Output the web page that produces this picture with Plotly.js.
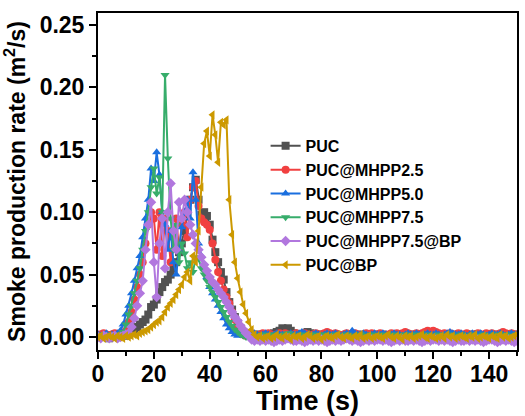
<!DOCTYPE html>
<html>
<head>
<meta charset="utf-8">
<script src="https://cdn.plot.ly/plotly-3.0.1.min.js"></script>
<style>html,body{margin:0;padding:0;background:#fff;}#chart{width:525px;height:416px;}</style>
</head>
<body>
<div id="chart"></div>
<script>
const seriesNames = ["PUC", "PUC@MHPP2.5", "PUC@MHPP5.0", "PUC@MHPP7.5", "PUC@MHPP7.5@BP", "PUC@BP"];
const xTickVals = [0, 20, 40, 60, 80, 100, 120, 140];
const yTickVals = [0.00, 0.05, 0.10, 0.15, 0.20, 0.25];
const yTickText = ["0.00", "0.05", "0.10", "0.15", "0.20", "0.25"];

const puc = [
  0.001, 0.000, 0.002, 0.001, -0.001, 0.001, 0.002, 0.000, 0.001, 0.002, 0.001,
  0.002, 0.004, 0.006, 0.008, 0.010, 0.012, 0.014, 0.018, 0.024, 0.026,
  0.030, 0.036, 0.040, 0.044, 0.046, 0.050, 0.055, 0.060, 0.068, 0.075,
  0.085, 0.100, 0.110, 0.120, 0.126, 0.110, 0.098, 0.100, 0.097, 0.090,
  0.078, 0.068, 0.060, 0.052, 0.046, 0.036, 0.028, 0.022, 0.016, 0.011,
  0.007, 0.004, 0.002, 0.001, 0.002, 0.001, 0.000, 0.002, 0.001, 0.002,
  0.001, 0.002, 0.003, 0.004, 0.005, 0.007, 0.006, 0.007, 0.005, 0.003,
  0.002, 0.001, 0.002, 0.003, 0.004, 0.003, 0.002, 0.001, 0.002, 0.001,
  0.000, 0.001, 0.002, 0.001, 0.002, 0.001, 0.000, 0.001, 0.002, 0.001,
  0.001, 0.000, 0.002, 0.001, 0.001, 0.002, 0.001, 0.000, 0.001, 0.002,
  0.001, 0.002, 0.001, 0.000, 0.001, 0.002, 0.001, 0.001, 0.000, 0.002,
  0.001, 0.002, 0.001, 0.001, 0.000, 0.001, 0.002, 0.001, 0.002, 0.001,
  0.000, 0.001, 0.002, 0.001, 0.001, 0.002, 0.000, 0.001, 0.002, 0.001,
  0.001, 0.000, 0.001, 0.002, 0.001, 0.002, 0.001, 0.000, 0.001, 0.002,
  0.001, 0.001, 0.002, 0.000, 0.001, 0.002, 0.001, 0.001, 0.002, 0.001
];
const mhpp25 = [
  0.002, 0.001, 0.003, 0.002, 0.001, 0.002, 0.003, 0.001, 0.002, 0.003, 0.005,
  0.012, 0.020, 0.030, 0.040, 0.050, 0.060, 0.075, 0.090, 0.100, 0.095,
  0.070, 0.100, 0.065, 0.095, 0.085, 0.060, 0.080, 0.095, 0.070, 0.090,
  0.100, 0.080, 0.110, 0.120, 0.125, 0.105, 0.095, 0.092, 0.090, 0.086,
  0.075, 0.062, 0.052, 0.045, 0.038, 0.032, 0.027, 0.020, 0.014, 0.009,
  0.005, 0.002, 0.001, 0.002, 0.003, 0.002, 0.001, 0.002, 0.003, 0.002,
  0.003, 0.002, 0.001, 0.002, 0.003, 0.002, 0.003, 0.002, 0.001, 0.002,
  0.003, 0.002, 0.002, 0.003, 0.002, 0.001, 0.002, 0.003, 0.002, 0.002,
  0.003, 0.004, 0.003, 0.002, 0.003, 0.002, 0.001, 0.002, 0.003, 0.002,
  0.002, 0.003, 0.002, 0.001, 0.002, 0.003, 0.002, 0.003, 0.002, 0.002,
  0.003, 0.002, 0.001, 0.002, 0.003, 0.002, 0.003, 0.002, 0.003, 0.004,
  0.003, 0.002, 0.002, 0.003, 0.002, 0.003, 0.004, 0.005, 0.004, 0.005,
  0.004, 0.003, 0.002, 0.003, 0.002, 0.003, 0.002, 0.002, 0.003, 0.002,
  0.002, 0.003, 0.002, 0.001, 0.002, 0.003, 0.002, 0.002, 0.003, 0.002,
  0.003, 0.002, 0.002, 0.003, 0.004, 0.003, 0.002, 0.003, 0.002, 0.002
];
const mhpp50 = [
  0.002, 0.001, 0.002, 0.003, 0.001, 0.002, 0.001, 0.003, 0.005, 0.010, 0.018,
  0.025, 0.035, 0.045, 0.055, 0.065, 0.080, 0.095, 0.110, 0.135, 0.125,
  0.148, 0.130, 0.100, 0.090, 0.070, 0.085, 0.060, 0.050, 0.070, 0.088,
  0.100, 0.110, 0.095, 0.132, 0.110, 0.075, 0.065, 0.055, 0.048, 0.040,
  0.035, 0.030, 0.025, 0.020, 0.015, 0.010, 0.007, 0.004, 0.002, 0.001,
  0.002, 0.001, 0.002, 0.001, 0.002, 0.003, 0.002, 0.001, 0.002, 0.003,
  0.002, 0.001, 0.002, 0.003, 0.002, 0.002, 0.001, 0.002, 0.003, 0.002,
  0.002, 0.003, 0.004, 0.003, 0.002, 0.001, 0.002, 0.003, 0.002, 0.001,
  0.002, 0.003, 0.002, 0.002, 0.003, 0.002, 0.001, 0.002, 0.003, 0.002,
  0.005, 0.003, 0.002, 0.002, 0.003, 0.002, 0.001, 0.002, 0.003, 0.002,
  0.002, 0.003, 0.002, 0.001, 0.002, 0.003, 0.002, 0.002, 0.001, 0.002,
  0.003, 0.002, 0.002, 0.003, 0.002, 0.001, 0.002, 0.003, 0.002, 0.002,
  0.003, 0.002, 0.001, 0.002, 0.003, 0.004, 0.003, 0.002, 0.002, 0.003,
  0.002, 0.001, 0.002, 0.003, 0.002, 0.002, 0.003, 0.002, 0.001, 0.002,
  0.003, 0.002, 0.002, 0.003, 0.002, 0.001, 0.002, 0.003, 0.002, 0.002
];
const mhpp75 = [
  0.001, 0.002, 0.001, 0.000, 0.001, 0.002, 0.001, 0.000, 0.002, 0.004, 0.010,
  0.018, 0.025, 0.035, 0.045, 0.055, 0.070, 0.085, 0.100, 0.120, 0.135,
  0.115, 0.128, 0.100, 0.210, 0.143, 0.095, 0.070, 0.090, 0.060, 0.075,
  0.067, 0.055, 0.060, 0.052, 0.064, 0.063, 0.055, 0.050, 0.045, 0.040,
  0.036, 0.032, 0.028, 0.024, 0.020, 0.016, 0.012, 0.009, 0.006, 0.004,
  0.002, 0.001, 0.000, 0.001, 0.002, 0.001, 0.000, 0.001, 0.002, 0.001,
  0.000, 0.001, 0.002, 0.001, 0.000, 0.001, 0.002, 0.003, 0.002, 0.001,
  0.000, 0.001, 0.002, 0.001, 0.000, 0.001, 0.002, 0.001, 0.000, 0.001,
  0.002, 0.001, 0.000, 0.001, 0.002, 0.001, 0.000, 0.001, 0.002, 0.001,
  0.001, 0.000, 0.001, 0.002, 0.001, 0.000, 0.001, 0.002, 0.001, 0.000,
  0.001, 0.002, 0.001, 0.000, 0.001, 0.002, 0.001, 0.000, 0.001, 0.002,
  0.001, 0.000, 0.001, 0.002, 0.001, 0.000, 0.001, 0.002, 0.001, 0.000,
  0.001, 0.002, 0.001, 0.000, 0.001, 0.002, 0.001, 0.000, 0.001, 0.002,
  0.001, 0.000, 0.001, 0.002, 0.001, 0.000, 0.001, 0.002, 0.001, 0.000,
  0.001, 0.002, 0.001, 0.000, 0.001, 0.002, 0.001, 0.000, 0.001, 0.002
];
const mhpp75bp = [
  0.000, -0.001, 0.001, 0.000, -0.001, 0.000, 0.001, -0.001, 0.000, 0.001, 0.002,
  0.003, 0.008, 0.015, 0.025, 0.035, 0.045, 0.070, 0.090, 0.108, 0.060,
  0.032, 0.075, 0.095, 0.055, 0.100, 0.123, 0.085, 0.070, 0.108, 0.095,
  0.110, 0.100, 0.090, 0.082, 0.075, 0.070, 0.064, 0.058, 0.053, 0.048,
  0.044, 0.042, 0.038, 0.035, 0.032, 0.028, 0.024, 0.020, 0.016, 0.013,
  0.009, 0.006, 0.003, 0.001, -0.002, -0.003, -0.002, -0.003, -0.002, -0.003,
  -0.002, -0.003, -0.004, -0.003, -0.002, -0.003, -0.002, -0.001, -0.002, -0.003,
  -0.003, -0.002, -0.003, -0.004, -0.003, -0.002, -0.003, -0.002, -0.003, -0.002,
  -0.003, -0.004, -0.003, -0.002, -0.003, -0.002, -0.003, -0.002, -0.001, -0.002,
  -0.003, -0.002, -0.003, -0.004, -0.003, -0.002, -0.003, -0.002, -0.003, -0.002,
  -0.002, -0.003, -0.002, -0.003, -0.004, -0.003, -0.002, -0.003, -0.002, -0.003,
  -0.003, -0.002, -0.003, -0.002, -0.003, -0.004, -0.003, -0.002, -0.003, -0.002,
  -0.002, -0.003, -0.002, -0.003, -0.002, -0.003, -0.004, -0.003, -0.002, -0.003,
  -0.003, -0.002, -0.003, -0.002, -0.003, -0.002, -0.003, -0.004, -0.003, -0.002,
  -0.002, -0.003, -0.004, -0.003, -0.002, -0.003, -0.002, -0.003, -0.004, -0.003
];
const bp = [
  0.000, 0.001, -0.001, 0.000, 0.001, 0.000, -0.001, 0.001, 0.000, -0.001, 0.001,
  0.000, 0.001, 0.002, 0.001, 0.003, 0.004, 0.005, 0.006, 0.008, 0.010,
  0.012, 0.013, 0.016, 0.020, 0.024, 0.027, 0.030, 0.034, 0.038, 0.042,
  0.048, 0.052, 0.045, 0.065, 0.060, 0.085, 0.120, 0.155, 0.165, 0.145,
  0.178, 0.162, 0.140, 0.172, 0.170, 0.174, 0.110, 0.082, 0.060, 0.047,
  0.036, 0.026, 0.019, 0.012, 0.006, 0.002, 0.000, 0.001, -0.001, 0.000,
  0.001, -0.001, 0.000, 0.002, 0.000, -0.001, 0.001, 0.000, -0.002, 0.001,
  0.000, 0.001, -0.001, 0.000, 0.002, 0.001, -0.001, 0.000, 0.001, -0.002,
  0.000, 0.001, 0.000, -0.001, 0.001, 0.002, 0.000, -0.001, 0.001, 0.000,
  -0.001, 0.001, 0.000, 0.002, -0.001, 0.000, 0.001, -0.001, 0.000, 0.001,
  0.000, -0.001, 0.001, 0.002, 0.000, -0.001, 0.001, 0.000, -0.002, 0.001,
  0.000, 0.001, -0.001, 0.000, 0.001, 0.002, 0.000, -0.001, 0.001, 0.000,
  -0.001, 0.000, 0.001, -0.001, 0.002, 0.000, 0.001, -0.001, 0.000, 0.001,
  0.000, -0.001, 0.001, 0.000, 0.002, -0.001, 0.000, 0.001, 0.000, -0.001,
  0.001, 0.000, -0.001, 0.002, 0.000, 0.001, -0.001, 0.000, 0.001, 0.002
];
// sampling: one reading per second, starting at 0 s
const time = puc.map((_, i) => i);

const seriesValues = [puc, mhpp25, mhpp50, mhpp75, mhpp75bp, bp];
const colors = ["#515151", "#F14040", "#1A6FDF", "#37AD6B", "#B177DE", "#CC9900"];
const symbols = ["square", "circle", "triangle-up", "triangle-down", "diamond", "triangle-left"];

const traces = seriesValues.map((vals, k) => ({
  type: "scatter",
  mode: "lines+markers",
  name: seriesNames[k],
  x: time,
  y: vals,
  line: {color: colors[k], width: 2},
  marker: {color: colors[k], symbol: symbols[k], size: 8}
}));

const bold = {family: "Arial, Liberation Sans, sans-serif", color: "#000", weight: "bold"};

const layout = {
  width: 525, height: 416,
  margin: {l: 98, r: 8, t: 13, b: 66},
  paper_bgcolor: "#fff", plot_bgcolor: "#fff",
  showlegend: true,
  legend: {
    x: 0.40, y: 0.656, xanchor: "left", yanchor: "top",
    bgcolor: "rgba(0,0,0,0)",
    font: Object.assign({size: 16}, bold),
    tracegroupgap: 0
  },
  xaxis: {
    range: [0, 150],
    tickvals: xTickVals,
    ticks: "outside", ticklen: 7, tickwidth: 2, tickcolor: "#000",
    minor: {dtick: 10, ticks: "outside", ticklen: 4, tickwidth: 2, tickcolor: "#000"},
    showline: true, linewidth: 2, linecolor: "#000", mirror: true,
    showgrid: false, zeroline: false,
    ticklabelstandoff: -5,
    tickfont: Object.assign({size: 23}, bold),
    title: {text: "Time (s)", font: Object.assign({size: 27}, bold), standoff: 0}
  },
  yaxis: {
    range: [-0.0104, 0.2596],
    tickvals: yTickVals, ticktext: yTickText,
    ticks: "outside", ticklen: 7, tickwidth: 2, tickcolor: "#000",
    minor: {dtick: 0.025, ticks: "outside", ticklen: 4, tickwidth: 2, tickcolor: "#000"},
    showline: true, linewidth: 2, linecolor: "#000", mirror: true,
    showgrid: false, zeroline: false,
    tickfont: Object.assign({size: 23}, bold),
    title: {text: "Smoke production rate (m<sup>2</sup>/s)", font: Object.assign({size: 23}, bold), standoff: 8}
  }
};

Plotly.newPlot("chart", traces, layout, {displayModeBar: false, staticPlot: true});
</script>
</body>
</html>
